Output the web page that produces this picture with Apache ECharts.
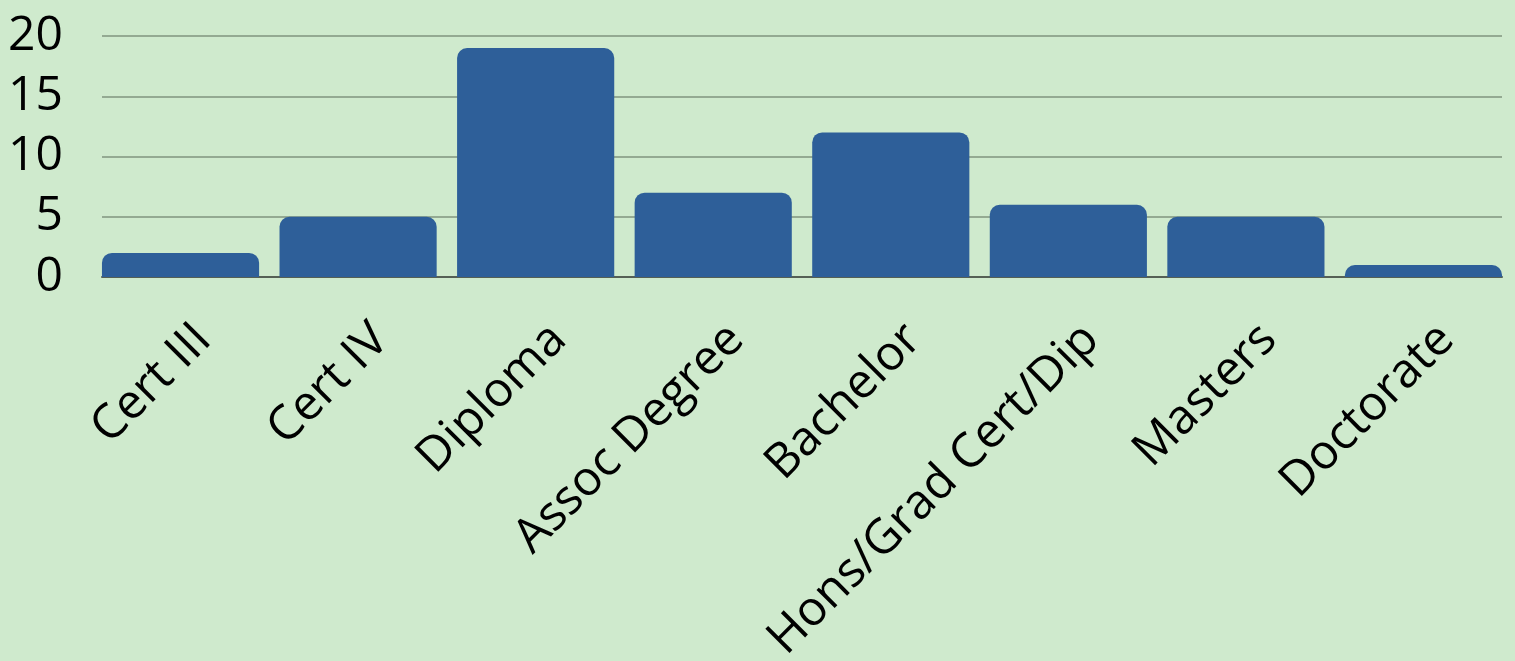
<!DOCTYPE html>
<html>
<head>
<meta charset="utf-8">
<script src="https://cdn.jsdelivr.net/npm/echarts@6/dist/echarts.min.js"></script>
<style>
html,body{margin:0;padding:0;background:#cfeacd;}
#chart{width:1515px;height:661px;}
</style>
</head>
<body>
<div id="chart"></div>
<script>
var categories = ['Cert III','Cert IV','Diploma','Assoc Degree','Bachelor','Hons/Grad Cert/Dip','Masters','Doctorate'];
var values = [2, 5, 19, 7, 12, 6, 5, 1];
var yTicks = [0, 5, 10, 15, 20];

var FONT = '"Open Sans", sans-serif';
var chart = echarts.init(document.getElementById('chart'), null, {renderer:'canvas'});
var gTop = 36, gBottom = 661 - 277;
chart.setOption({
  backgroundColor: '#cfeacd',
  animation: false,
  grid: [
    {left: 91.75, right: 2.75, top: gTop, bottom: gBottom, outerBoundsMode: 'none', containLabel: false},
    {left: 102, right: 13, top: gTop, bottom: gBottom, outerBoundsMode: 'none', containLabel: false},
    {left: 114.75, width: 1420.5, top: gTop, bottom: gBottom, outerBoundsMode: 'none', containLabel: false}
  ],
  xAxis: [
    {type:'category', gridIndex:0, data: categories, axisLine:{show:false}, axisTick:{show:false}, axisLabel:{show:false}},
    {type:'value', gridIndex:1, min:0, max:1, axisLine:{show:true, lineStyle:{color:'#556055', width:2}}, axisTick:{show:false}, axisLabel:{show:false}, splitLine:{show:false}},
    {type:'category', gridIndex:2, data: categories, axisLine:{show:false}, axisTick:{show:false},
     axisLabel:{show:true, interval:0, rotate:45, margin:55, color:'#000', fontFamily: FONT, fontSize:48}}
  ],
  yAxis: [
    {type:'value', gridIndex:0, min:0, max:20, show:false, splitLine:{show:false}},
    {type:'value', gridIndex:1, min:0, max:20, interval:5,
     axisLine:{show:false}, axisTick:{show:false},
     axisLabel:{show:true, margin:39, color:'#000', fontFamily: FONT, fontSize:48,
       formatter: function(v){ return yTicks.indexOf(v) >= 0 ? String(v) : ''; }},
     splitLine:{show:true, lineStyle:{color:'#94aa92', width:2}}},
    {type:'value', gridIndex:2, min:0, max:20, show:false, splitLine:{show:false}}
  ],
  series: [{
    type:'bar', xAxisIndex:0, yAxisIndex:0, data: values,
    barCategoryGap:'11.5%',
    itemStyle:{color:'#2e5f99', borderRadius:[10,10,0,0]},
    z: 1
  }]
});
</script>
</body>
</html>
